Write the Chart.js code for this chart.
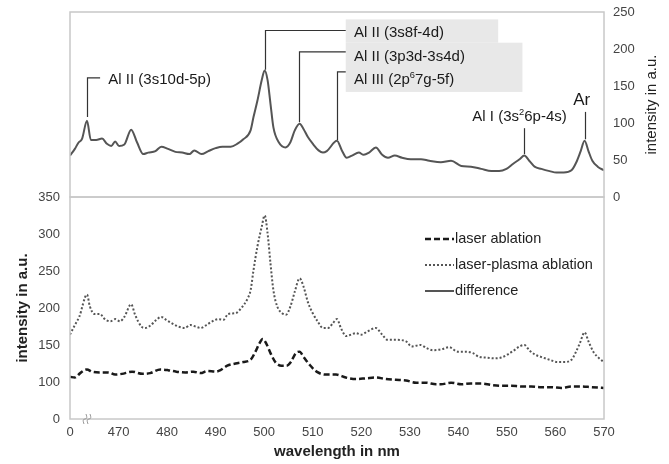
<!DOCTYPE html>
<html>
<head>
<meta charset="utf-8">
<script src="https://cdn.jsdelivr.net/npm/chart.js@4"></script>
<style>
    body { margin: 0; background: #fff; }
    .wrap { position: absolute; left: 0; width: 669px; }
    .bottom { top: 189px; height: 275px; }
    .top { top: 0; height: 212px; }
</style>
</head>
<body>
<div class="wrap bottom"><canvas class="spectra-chart"></canvas></div>
<div class="wrap top"><canvas class="diff-chart"></canvas></div>
<script>
const wlMin = 460
const wlMax = 570

// laser ablation (dashed)
const laserWl = [460, 461, 462.1, 463.5, 464.5, 466.2, 467.9, 469.3, 470.7, 472.8,
    474.9, 476.5, 478.6, 480.2, 481.9, 483.8, 485.4, 486.9, 488.3, 490,
    491, 492.4, 494.1, 495.7, 497.2, 498.2, 499, 499.7, 500.5, 501.3,
    502.4, 503.6, 504.6, 505.5, 506.5, 507.3, 508.1, 509.4, 510.8, 512.7,
    514.8, 516.8, 518.9, 521, 523, 525.1, 527.1, 529.2, 531.3, 533.3,
    535.4, 536.4, 538.5, 540.6, 542.6, 544.7, 546.8, 548.8, 550.9, 553,
    555, 557.1, 559.2, 561.2, 563.3, 565.4, 567.4, 570]
const laserVals = [107, 106, 112, 117, 114, 113, 113, 110, 111, 114,
    111, 112, 117, 116, 114, 113, 114, 112, 115, 114,
    116, 122, 125, 127, 130, 141, 152, 158, 151, 139,
    126, 122, 122, 127, 139, 141, 134, 123, 114, 110,
    110, 106, 104, 105, 106, 104, 103, 102, 99, 99,
    97, 97, 99, 97, 98, 98, 96, 95, 95, 94,
    94, 93, 93, 92, 94, 94, 93, 92]

// laser-plasma ablation (dotted)
const plasmaWl = [460, 461, 461.9, 463.5, 464.1, 465, 466.2, 467, 468.3, 469.3,
    470.3, 471.2, 472.6, 473.4, 474.7, 475.5, 476.5, 477.8, 478.8, 479.8,
    481.1, 482.3, 483.6, 484.8, 485.8, 486.9, 488.1, 489.3, 490.6, 491.6,
    492.6, 494.1, 495.3, 496.6, 497.2, 497.8, 498.6, 499.5, 500.1, 500.7,
    501.3, 501.9, 502.7, 503.7, 504.5, 505.4, 506.3, 507.3, 508.1, 509,
    510, 511, 512.1, 513.2, 514.1, 515, 515.8, 516.9, 517.9, 518.9,
    520, 521.2, 523, 524.3, 525.4, 527.1, 529.2, 530.4, 532.2, 533.4,
    534.8, 536.4, 538.1, 539.9, 541.5, 543, 544.3, 545.9, 547.4, 548.8,
    550.1, 551.3, 552.6, 553.6, 554.6, 555.8, 557, 558.8, 560.4, 561.8,
    563.3, 564.1, 565, 566, 566.8, 567.8, 569, 570]
const plasmaVals = [164, 177, 188, 218, 202, 192, 192, 186, 182, 185,
    182, 188, 205, 191, 175, 173, 176, 184, 188, 184,
    179, 175, 173, 177, 175, 173, 177, 182, 185, 184,
    192, 193, 200, 213, 224, 251, 283, 310, 325, 301,
    260, 224, 202, 193, 191, 202, 222, 240, 229, 208,
    193, 182, 173, 173, 179, 185, 173, 162, 164, 166,
    164, 168, 173, 164, 157, 157, 155, 148, 150, 146,
    143, 144, 147, 141, 141, 139, 134, 133, 132, 133,
    137, 142, 148, 150, 143, 137, 134, 130, 127, 127,
    130, 139, 152, 167, 155, 141, 132, 127]

// difference (top panel)
const diffWl = [460, 461, 461.7, 462.5, 463.5, 464.3, 465.4, 466.6, 467.6, 468.5,
    469.3, 470.1, 471.2, 472.6, 473.8, 475.1, 476.1, 477.6, 478.8, 480.2,
    481.7, 483.1, 484.6, 485.6, 487.1, 488.5, 490, 491.4, 493.1, 494.5,
    495.7, 497.2, 497.8, 498.6, 499.5, 500.1, 500.7, 501.3, 501.9, 503,
    504.4, 505.4, 506.3, 507.3, 508.1, 509, 510, 511.2, 512.1, 512.9,
    515, 516, 517, 518.1, 519.5, 520.5, 521.6, 523, 524.3, 525.5,
    526.9, 528.4, 530.2, 532.3, 534, 536.4, 538.5, 540.6, 542.6, 544.7,
    546.8, 548.4, 549.9, 551.3, 552.6, 553.6, 554.6, 555.7, 557.1, 558.8,
    560.2, 561.7, 563.3, 564.3, 565.2, 566, 566.8, 567.6, 568.7, 570]
const diffVals = [56, 65, 73, 79, 103, 77, 77, 79, 72, 69,
    75, 69, 71, 91, 74, 58, 60, 62, 68, 65,
    61, 60, 58, 63, 58, 62, 66, 68, 68, 72,
    78, 90, 108, 130, 158, 171, 158, 126, 94, 74,
    67, 74, 90, 99, 92, 81, 72, 63, 60, 62,
    76, 63, 53, 56, 60, 57, 60, 67, 57, 53,
    56, 53, 51, 51, 49, 47, 49, 42, 41, 38,
    35, 35, 38, 45, 51, 56, 49, 41, 38, 35,
    33, 33, 36, 47, 62, 76, 62, 49, 41, 36]

const font = "'Liberation Sans', Arial, sans-serif"
const toPoints = (xs, ys) => xs.map((x, i) => ({ x: x, y: ys[i] }))

// line labels of the top panel, in wavelength / intensity units
const peakNotes = [
    { text: 'Al II (3s10d-5p)', at: 463.5, from: 108, to: 161, elbow: 466.2, tx: 467.9, ty: 158, align: 'left' },
    { text: 'Al II (3s8f-4d)', at: 500.1, from: 172, to: 225, elbow: 516.8, tx: 518.5, ty: 222, align: 'left' },
    { text: 'Al II (3p3d-3s4d)', at: 507.2, from: 101, to: 196, elbow: 516.8, tx: 518.5, ty: 189, align: 'left' },
    { text: 'Al III (2p^6^7g-5f)', at: 515, from: 77, to: 169, elbow: 516.8, tx: 518.5, ty: 158, align: 'left' },
    { text: 'Al I (3s^2^6p-4s)', at: 553.6, from: 58, to: 93, tx: 552.6, ty: 108, align: 'center' },
    { text: 'Ar', at: 566, from: 78, to: 115, tx: 565.4, ty: 131, align: 'center', size: 17 },
]

function drawRich(ctx, text, x, y, size, align) {
    const parts = text.split('^')
    const sup = size * 0.62
    let w = 0
    parts.forEach((p, i) => {
        ctx.font = (i % 2 ? sup : size) + 'px ' + font
        w += ctx.measureText(p).width
    })
    let cx = align === 'center' ? x - w / 2 : x
    ctx.textAlign = 'left'
    ctx.textBaseline = 'middle'
    parts.forEach((p, i) => {
        ctx.font = (i % 2 ? sup : size) + 'px ' + font
        ctx.fillText(p, cx, i % 2 ? y - size * 0.32 : y)
        cx += ctx.measureText(p).width
    })
}

const frame = {
    id: 'frame',
    afterDraw(chart) {
        const { ctx, chartArea: a } = chart
        ctx.save()
        ctx.strokeStyle = '#c8c8c8'
        ctx.lineWidth = 1.5
        ctx.strokeRect(a.left, a.top, a.width, a.height)
        ctx.restore()
    }
}

const peakLabels = {
    id: 'peakLabels',
    beforeDatasetsDraw(chart) {
        const { ctx, scales: { x, y } } = chart
        ctx.save()
        ctx.fillStyle = '#e8e8e8'
        const x0 = x.getPixelForValue(516.8)
        ctx.fillRect(x0, y.getPixelForValue(240), x.getPixelForValue(548.2) - x0, y.getPixelForValue(208.5) - y.getPixelForValue(240))
        ctx.fillRect(x0, y.getPixelForValue(208.5), x.getPixelForValue(553.2) - x0, y.getPixelForValue(142) - y.getPixelForValue(208.5))
        ctx.restore()
    },
    afterDraw(chart) {
        const { ctx, chartArea: a, scales: { x, y } } = chart
        ctx.save()
        ctx.strokeStyle = '#333'
        ctx.lineWidth = 1.2
        peakNotes.forEach(n => {
            const px = Math.round(x.getPixelForValue(n.at)) + 0.5
            const top = y.getPixelForValue(n.to)
            ctx.beginPath()
            ctx.moveTo(px, y.getPixelForValue(n.from))
            ctx.lineTo(px, top)
            if (n.elbow) ctx.lineTo(x.getPixelForValue(n.elbow), top)
            ctx.stroke()
            ctx.fillStyle = '#1a1a1a'
            drawRich(ctx, n.text, x.getPixelForValue(n.tx), y.getPixelForValue(n.ty), n.size || 15, n.align)
        })
        // right axis title, reading upwards
        ctx.translate(652, (a.top + a.bottom) / 2)
        ctx.rotate(-Math.PI / 2)
        ctx.font = '15px ' + font
        ctx.fillStyle = '#222'
        ctx.textAlign = 'center'
        ctx.textBaseline = 'middle'
        ctx.fillText('intensity in a.u.', 0, 0)
        ctx.restore()
    }
}

const diffSet = {
    label: 'difference',
    data: toPoints(diffWl, diffVals),
    borderColor: '#555',
    borderWidth: 2,
    pointRadius: 0,
    cubicInterpolationMode: 'monotone'
}

const sideLegend = {
    id: 'sideLegend',
    afterDraw(chart) {
        const { ctx, chartArea: a } = chart
        const items = [...chart.data.datasets, diffSet]
        ctx.save()
        items.forEach((ds, i) => {
            const yy = a.top + 42 + i * 26
            ctx.setLineDash(ds.borderDash || [])
            ctx.strokeStyle = ds.borderColor
            ctx.lineWidth = ds.borderWidth
            ctx.beginPath()
            ctx.moveTo(a.left + 355, yy)
            ctx.lineTo(a.left + 384, yy)
            ctx.stroke()
            ctx.setLineDash([])
            ctx.fillStyle = '#222'
            ctx.font = '14.5px ' + font
            ctx.textAlign = 'left'
            ctx.textBaseline = 'middle'
            ctx.fillText(ds.label, a.left + 385, yy)
        })
        // axis break mark near the origin
        const bx = chart.scales.x.getPixelForValue(463.5)
        const by = a.bottom
        ctx.strokeStyle = '#999'
        ctx.lineWidth = 1
        ;[-2, 2].forEach(d => {
            ctx.beginPath()
            ctx.moveTo(bx + d - 1, by + 5)
            ctx.quadraticCurveTo(bx + d - 3, by, bx + d, by)
            ctx.quadraticCurveTo(bx + d + 3, by, bx + d + 1, by - 5)
            ctx.stroke()
        })
        ctx.restore()
    }
}

const tickFont = { family: font, size: 13 }

new Chart(document.querySelector('.spectra-chart'), {
    type: 'line',
    data: {
        datasets: [
            {
                label: 'laser ablation',
                data: toPoints(laserWl, laserVals),
                borderColor: '#1a1a1a',
                borderWidth: 2.5,
                borderDash: [6, 3],
                pointRadius: 0,
                cubicInterpolationMode: 'monotone'
            },
            {
                label: 'laser-plasma ablation',
                data: toPoints(plasmaWl, plasmaVals),
                borderColor: '#555',
                borderWidth: 2,
                borderDash: [2, 2],
                pointRadius: 0,
                cubicInterpolationMode: 'monotone'
            }
        ]
    },
    options: {
        responsive: true,
        maintainAspectRatio: false,
        animation: false,
        devicePixelRatio: 1,
        layout: { padding: { top: 8, right: 65, left: 0, bottom: 0 } },
        scales: {
            x: {
                type: 'linear',
                min: wlMin,
                max: wlMax,
                afterFit: s => { s.height = 45 },
                grid: { display: false, tickLength: 6 },
                border: { display: false },
                ticks: {
                    stepSize: 10,
                    padding: 0,
                    color: '#444',
                    font: tickFont,
                    maxRotation: 0,
                    autoSkip: false,
                    callback: v => v === wlMin ? '0' : v
                },
                title: {
                    display: true,
                    text: 'wavelength in nm',
                    color: '#222',
                    font: { family: font, size: 15, weight: 'bold' },
                    padding: { top: 0, bottom: 3 }
                }
            },
            y: {
                min: 50,
                max: 350,
                afterFit: s => { s.width = 70 },
                grid: { display: false, tickLength: 10 },
                border: { display: false },
                ticks: {
                    stepSize: 50,
                    padding: 0,
                    color: '#444',
                    font: tickFont,
                    callback: v => v === 50 ? '0' : v
                },
                title: {
                    display: true,
                    text: 'intensity in a.u.',
                    color: '#222',
                    font: { family: font, size: 15, weight: 'bold' },
                    padding: { top: 14, bottom: 0 }
                }
            }
        },
        plugins: {
            legend: { display: false },
            tooltip: { enabled: false }
        }
    },
    plugins: [frame, sideLegend]
})

new Chart(document.querySelector('.diff-chart'), {
    type: 'line',
    data: { datasets: [diffSet] },
    options: {
        responsive: true,
        maintainAspectRatio: false,
        animation: false,
        devicePixelRatio: 1,
        layout: { padding: { top: 12, left: 70, right: 0, bottom: 15 } },
        scales: {
            x: {
                type: 'linear',
                min: wlMin,
                max: wlMax,
                display: false
            },
            y: {
                position: 'right',
                min: 0,
                max: 250,
                afterFit: s => { s.width = 65 },
                grid: { display: false, tickLength: 9 },
                border: { display: false },
                ticks: {
                    stepSize: 50,
                    padding: 0,
                    color: '#444',
                    font: tickFont
                }
            }
        },
        plugins: {
            legend: { display: false },
            tooltip: { enabled: false }
        }
    },
    plugins: [frame, peakLabels]
})
</script>
</body>
</html>
